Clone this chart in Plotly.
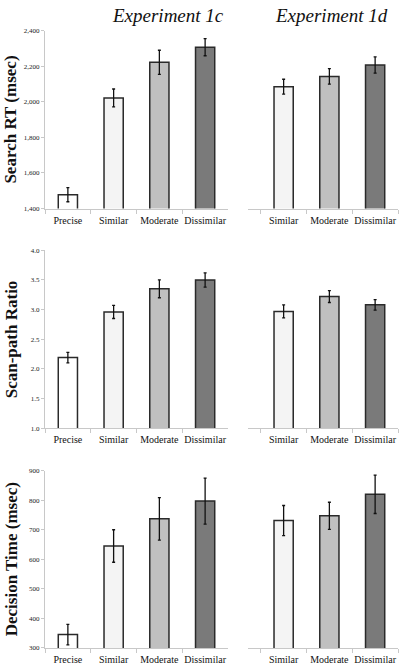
import plotly.graph_objects as go

cats_c = ["Precise", "Similar", "Moderate", "Dissimilar"]
cats_d = ["Similar", "Moderate", "Dissimilar"]
colors_c = ["#ffffff", "#f4f4f4", "#c0c0c0", "#7a7a7a"]
colors_d = ["#f4f4f4", "#c0c0c0", "#7a7a7a"]

rt_c = [1478, 2022, 2222, 2307]
rt_c_err = [40, 50, 68, 48]
rt_d = [2085, 2143, 2207]
rt_d_err = [42, 44, 46]

sp_c = [2.19, 2.96, 3.35, 3.50]
sp_c_err = [0.09, 0.11, 0.15, 0.12]
sp_d = [2.97, 3.22, 3.08]
sp_d_err = [0.11, 0.10, 0.09]

dt_c = [345, 645, 737, 797]
dt_c_err = [35, 55, 72, 78]
dt_d = [731, 747, 820]
dt_d_err = [51, 46, 65]

row_titles = ["Search RT (msec)", "Scan-path Ratio", "Decision Time (msec)"]
y_ranges = [[1400, 2400], [1.0, 4.0], [300, 900]]
y_dtick = [200, 0.5, 100]
y_fmt = [",d", ".1f", "d"]
col_titles = ["Experiment 1c", "Experiment 1d"]

W, H = 400, 670
row_px = [(27, 207), (249.3, 429.3), (472.3, 651.7)]
left_px = (45, 228)
right_px = (248, 398)

data = [(rt_c, rt_c_err, rt_d, rt_d_err),
        (sp_c, sp_c_err, sp_d, sp_d_err),
        (dt_c, dt_c_err, dt_d, dt_d_err)]

SERIF = "Liberation Serif, Times New Roman, serif"
fig = go.Figure()
layout = {}
axis_gray = "#c8c8c8"
for r in range(3):
    yc, ycerr, yd, yderr = data[r]
    top, bot = row_px[r]
    ydom = [1 - bot / H, 1 - top / H]
    for c in range(2):
        idx = r * 2 + c + 1
        xa = "x" if idx == 1 else f"x{idx}"
        ya = "y" if idx == 1 else f"y{idx}"
        cats = cats_c if c == 0 else cats_d
        vals = yc if c == 0 else yd
        errs = ycerr if c == 0 else yderr
        cols = colors_c if c == 0 else colors_d
        fig.add_trace(go.Bar(
            x=cats, y=vals, xaxis=xa, yaxis=ya, width=0.42,
            marker=dict(color=cols, line=dict(color="#2a2a2a", width=1.5)),
            error_y=dict(type="data", array=errs, color="#111111", thickness=1.3, width=1.5),
            showlegend=False, hoverinfo="x+y"))
        px = left_px if c == 0 else right_px
        xdom = [px[0] / W, min(px[1] / W, 1.0)]
        if c == 0:
            xr = [-0.5, 3.5]
        else:
            span = (right_px[1] - right_px[0])
            unit = (left_px[1] - left_px[0]) / 4
            xr = [2.5 - span / unit, 2.5]
        layout["xaxis" if idx == 1 else f"xaxis{idx}"] = dict(
            domain=xdom, anchor=ya, range=xr, type="category",
            showline=True, linecolor=axis_gray, linewidth=1,
            ticks="outside", tickson="boundaries", ticklen=4, tickcolor=axis_gray,
            tickangle=0, ticklabelstandoff=2,
            tickfont=dict(family=SERIF, size=10, color="#111"),
            showgrid=False, zeroline=False, fixedrange=True)
        layout["yaxis" if idx == 1 else f"yaxis{idx}"] = dict(
            domain=ydom, anchor=xa, range=y_ranges[r], dtick=y_dtick[r],
            tickformat=y_fmt[r], showgrid=False, zeroline=False,
            showline=(c == 0), linecolor=axis_gray, linewidth=1,
            ticks="outside" if c == 0 else "", ticklen=3, tickcolor=axis_gray,
            showticklabels=(c == 0),
            tickfont=dict(family=SERIF, size=7, color="#222"), fixedrange=True)

annotations = []
for r in range(3):
    top, bot = row_px[r]
    ymid = 1 - ((top + bot) / 2) / H
    annotations.append(dict(
        text="<b>" + row_titles[r] + "</b>", xref="paper", yref="paper",
        x=11 / W, y=ymid, textangle=-90, showarrow=False,
        font=dict(family=SERIF, size=17, color="#111"),
        xanchor="center", yanchor="middle", borderpad=0))
for c, xc in enumerate([168, 331]):
    annotations.append(dict(
        text="<i>" + col_titles[c] + "</i>", xref="paper", yref="paper",
        x=xc / W, y=1 - 12 / H, showarrow=False,
        font=dict(family=SERIF, size=19, color="#111"),
        xanchor="center", yanchor="middle"))

fig.update_layout(
    width=W, height=H, margin=dict(l=0, r=0, t=0, b=0),
    paper_bgcolor="white", plot_bgcolor="white",
    annotations=annotations, bargap=0.58, **layout)

fig.write_html("out.html", config={"displayModeBar": False},
               post_script="document.body.style.margin='0';")
